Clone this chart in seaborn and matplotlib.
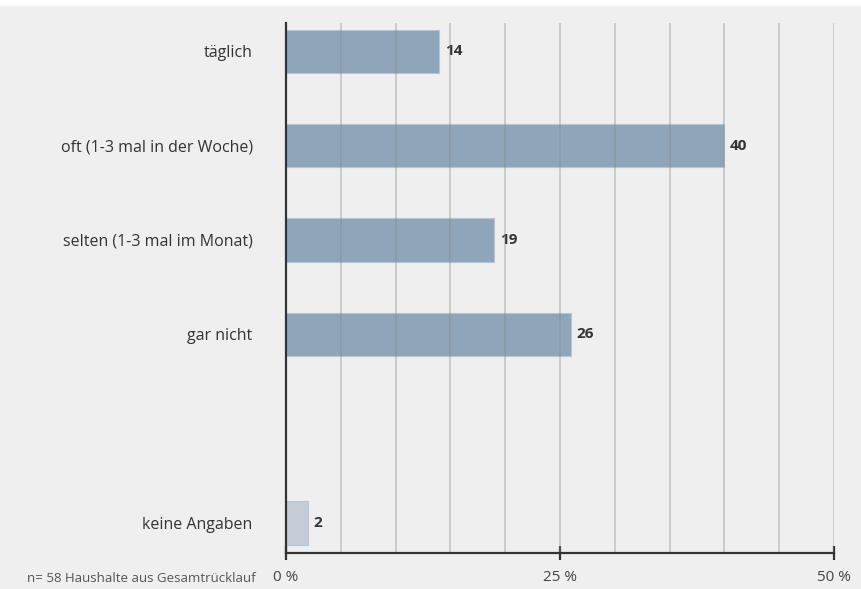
import matplotlib
matplotlib.use("Agg")
import matplotlib.pyplot as plt
from matplotlib.patches import Rectangle
import seaborn as sns
import pandas as pd

categories = ["täglich", "oft (1-3 mal in der Woche)", "selten (1-3 mal im Monat)",
              "gar nicht", "keine Angaben"]
values = [14, 40, 19, 26, 2]
slot_order = ["täglich", "oft (1-3 mal in der Woche)", "selten (1-3 mal im Monat)",
              "gar nicht", " ", "keine Angaben"]
xticks = [0, 25, 50]
xtick_labels = ["0 %", "25 %", "50 %"]
footnote = "n= 58 Haushalte aus Gesamtrücklauf"

bg = "#efefef"
bar_main = "#8fa5b9"
bar_light = "#c4cdd7"
palette = {c: (bar_light if c == "keine Angaben" else bar_main) for c in categories}

sns.set_theme(style="white")
plt.rcParams["font.family"] = ["Open Sans", "DejaVu Sans"]

df = pd.DataFrame({"cat": categories, "val": values})

fig = plt.figure(figsize=(8.61, 5.89), dpi=100, facecolor=bg)
fig.patches.append(Rectangle((0, 1 - 5 / 589), 1, 5 / 589, transform=fig.transFigure,
                             color="white", zorder=0))
ax = fig.add_axes([286 / 861, 1 - 553 / 589, 548 / 861, 530 / 589])
ax.set_facecolor(bg)

sns.barplot(data=df, x="val", y="cat", hue="cat", order=slot_order, palette=palette,
            legend=False, width=0.46, orient="h", ax=ax, zorder=2, saturation=1,
            edgecolor="#b8c6d3", linewidth=0.8)

for c in ax.containers:
    ax.bar_label(c, fmt="%d", padding=4, fontweight="bold", fontsize=11, color="#333333")

ax.set_xlim(0, 50)
ax.set_ylim(5.32, -0.30)
for gx in range(5, 51, 5):
    ax.axvline(gx, color="#888888", alpha=0.45, lw=1.1, zorder=3)

for s in ["top", "right"]:
    ax.spines[s].set_visible(False)
for s in ["left", "bottom"]:
    ax.spines[s].set_color("#333333")
    ax.spines[s].set_linewidth(1.6)
    ax.spines[s].set_zorder(4)

ax.set_xticks(xticks)
ax.set_xticklabels(xtick_labels)
ax.tick_params(axis="x", direction="inout", length=10, width=1.6, color="#333333",
               labelsize=11, labelcolor="#444444", pad=7, bottom=True)
ax.tick_params(axis="y", length=0, labelsize=11.5, labelcolor="#333333", pad=24)
ax.set_xlabel("")
ax.set_ylabel("")

fig.text(27 / 861, 1 - 578 / 589, footnote, fontsize=9.5, color="#555555",
         ha="left", va="center")

fig.savefig("out.png", dpi=100, facecolor=bg)
